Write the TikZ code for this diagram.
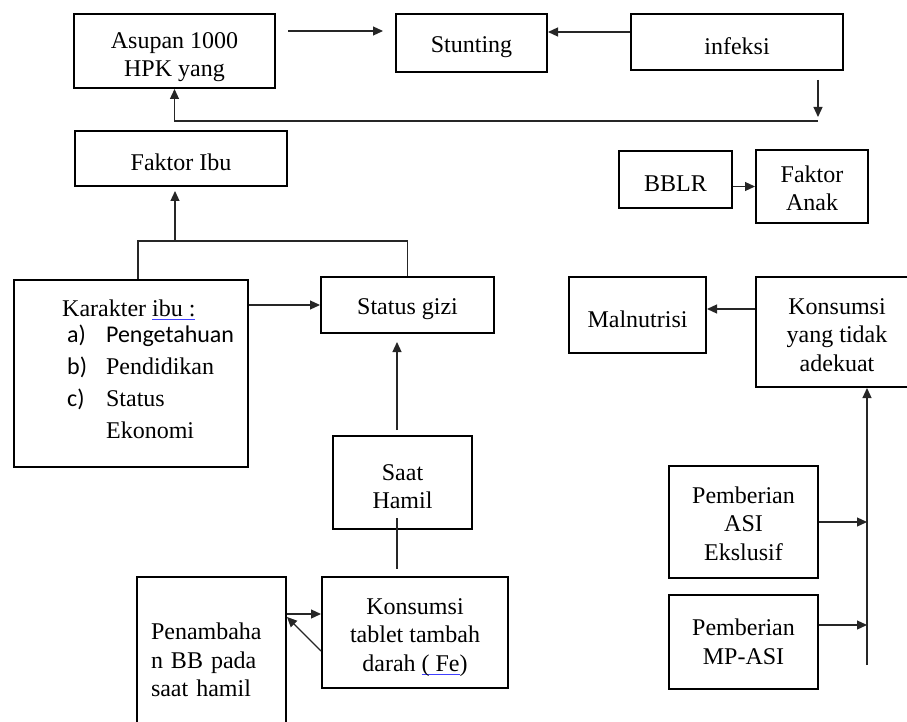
\documentclass[tikz,border=0pt]{standalone}
\usepackage{fontspec}
\setmainfont{Liberation Serif}
\newfontfamily\calibri{Carlito}
\usetikzlibrary{arrows.meta,calc}
\newsavebox\ulbox
\newcommand{\wordul}[1]{\sbox\ulbox{#1}\rlap{\textcolor{blue!75}{\rule[-3.5pt]{\wd\ulbox}{1.1pt}}}\usebox\ulbox}
\newcommand{\atas}[1]{\rule{0pt}{#1pt}}

\begin{document}
\begin{tikzpicture}[x=1pt,y=-1pt,
  box/.style={draw,line width=2pt,align=center,inner sep=0pt,font=\fontsize{24}{28.5}\selectfont,
    execute at begin node={\rule{0pt}{25pt}}},
  con/.style={line width=1.2pt,black!85},
  arr/.style={con,-{Triangle[length=10pt,width=9pt]}}]
\useasboundingbox (0,0) rectangle (907,722);
\clip (0,0) rectangle (907,722);
\node[box,minimum width=201,minimum height=74] (asupan) at (174.5,51) {\atas{28}Asupan 1000\\HPK yang};
\node[box,minimum width=151,minimum height=58] (stunting) at (471.5,43) {Stunting};
\node[box,minimum width=212,minimum height=56] (infeksi) at (737,42) {infeksi};
\node[box,minimum width=212,minimum height=55] (faktoribu) at (181,158.5) {Faktor Ibu};
\node[box,minimum width=234,minimum height=187] (karakter) at (131,373.5) {};
\node[anchor=north west,inner sep=0pt,font=\fontsize{24}{32}\selectfont] (karakterisi) at (62,294) {%
\begin{tabular}{@{\hspace{5pt}}l@{\hspace{19pt}}l@{}}
\multicolumn{2}{@{}l}{Karakter \wordul{ibu :}}\\[-6pt]
{\calibri a)} & {\calibri Pengetahuan}\\
{\calibri b)} & Pendidikan\\
{\calibri c)} & Status\\
 & Ekonomi
\end{tabular}};
\node[box,minimum width=173,minimum height=56] (statusgizi) at (407.5,305) {Status gizi};
\node[box,minimum width=139,minimum height=93] (saathamil) at (402.5,482.5) {\atas{24}Saat\\Hamil};
\node[box,minimum width=186,minimum height=111] (tablet) at (415,632.5) {\atas{26}Konsumsi\\tablet tambah\\darah \wordul{(\ Fe})};
\node[box,minimum width=149,minimum height=158,text width=121,align=left] (penambahan) at (211.5,656) {Penambaha\\n BB pada\\saat hamil};
\node[box,minimum width=113,minimum height=57] (bblr) at (675.5,179.5) {BBLR};
\node[box,minimum width=112,minimum height=73] (faktoranak) at (812,186.5) {\atas{20}Faktor\\Anak};
\node[box,minimum width=137,minimum height=76] (malnutrisi) at (637.5,315) {Malnutrisi};
\node[box,minimum width=162,minimum height=110] (adekuat) at (837,332) {\atas{22}Konsumsi\\yang tidak\\adekuat};
\node[box,minimum width=149,minimum height=112] (asi) at (743.5,522) {\atas{20}Pemberian\\ASI\\Ekslusif};
\node[box,minimum width=149,minimum height=94] (mpasi) at (743.5,642) {Pemberian\\MP-ASI};

\coordinate (infbawah) at (818,80);
\coordinate (balik) at (818,121);
\coordinate (cabang) at (175,241);
\coordinate (batang) at (867,665);
\coordinate (tablatas) at ($(tablet.west)+(0,-18.5)$);
\coordinate (adekiri) at ($(adekuat.west)+(0,-23)$);
\coordinate (mpkanan) at ($(mpasi.east)+(0,-17)$);

\draw[arr] ($(asupan.north east)+(12,18)$) -- ($(stunting.north west)+(-12,18)$);
\draw[arr] ([yshift=10]infeksi.west) -- ([yshift=10]infeksi.west -| stunting.east);
\draw[arr] (infbawah) -- ($(balik)+(0,-4)$);
\draw[arr] (balik) -| (asupan.south);
\draw[arr,shorten >=4pt] (cabang) -- (cabang |- faktoribu.south);
\draw[con] ([xshift=7]karakter.north) |- (cabang) -| (statusgizi.north);
\draw[arr] (karakter.east |- statusgizi.west) -- (statusgizi.west);
\draw[arr] ($(saathamil.north)+(-5.5,-5)$) -- ($(statusgizi.south)+(-10.5,8)$);
\draw[con] ($(saathamil.south)+(-5.5,-12)$) -- ($(tablet.north)+(-18,-7)$);
\draw[arr] (penambahan.east |- tablatas) -- (tablatas);
\draw[arr] ($(tablet.west)+(0,18.5)$) -- ($(penambahan.east)+(0,-39)$);
\draw[arr] (bblr.east |- faktoranak.west) -- (faktoranak.west);
\draw[arr] (adekiri) -- (adekiri -| malnutrisi.east);
\draw[arr] (batang) -- (batang |- adekuat.south);
\draw[arr] (asi.east) -- (asi.east -| batang);
\draw[arr] (mpkanan) -- (mpkanan -| batang);
\end{tikzpicture}
\end{document}
